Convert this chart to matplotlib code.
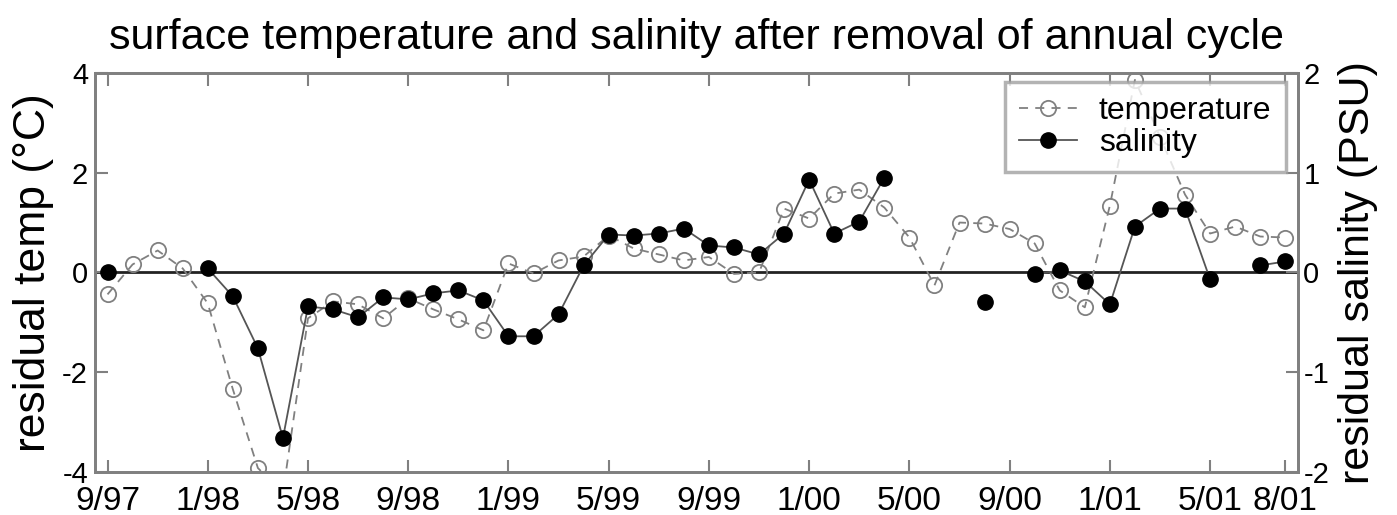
import numpy as np
import matplotlib
matplotlib.use('Agg')
import matplotlib.pyplot as plt

plt.rcParams['font.family'] = ['Liberation Sans', 'DejaVu Sans']
plt.rcParams['axes.unicode_minus'] = False

# months since 9/97, monthly samples (nan = no data)
months = np.arange(48)
temperature = [-0.44, 0.16, 0.44, 0.08, -0.62, -2.34, -3.92, -4.42,
               -0.92, -0.58, -0.64, -0.92, -0.52, -0.74, -0.94, -1.16,
               0.18, -0.02, 0.24, 0.32, 0.74, 0.48, 0.36, 0.24,
               0.31, -0.03, 0.00, 1.28, 1.08, 1.58, 1.66, 1.30,
               0.70, -0.26, 1.00, 0.98, 0.87, 0.58, -0.36, -0.70,
               1.34, 3.86, 2.72, 1.56, 0.78, 0.92, 0.72, 0.70]
salinity = [0.00, np.nan, np.nan, np.nan, 0.04, -0.24, -0.76, -1.66,
            -0.34, -0.37, -0.45, -0.25, -0.27, -0.21, -0.18, -0.28,
            -0.64, -0.64, -0.42, 0.07, 0.38, 0.37, 0.39, 0.44,
            0.27, 0.25, 0.18, 0.39, 0.93, 0.39, 0.51, 0.95,
            np.nan, np.nan, np.nan, -0.30, np.nan, -0.02, 0.02, -0.09,
            -0.32, 0.46, 0.64, 0.64, -0.07, np.nan, 0.07, 0.11]

tick_months = [0, 4, 8, 12, 16, 20, 24, 28, 32, 36, 40, 44, 47]
tick_labels = ['9/97', '1/98', '5/98', '9/98', '1/99', '5/99', '9/99',
               '1/00', '5/00', '9/00', '1/01', '5/01', '8/01']

fig = plt.figure(figsize=(13.97, 5.15), dpi=100)
ax = fig.add_axes([0.068, 0.0835, 0.861, 0.775])
ax2 = ax.twinx()

gray = '#808080'
ax.axhline(0, color='#222222', lw=2, zorder=1)
l1, = ax.plot(months, temperature, color=gray, ls=(0, (5, 4)), lw=1.3,
              marker='o', ms=11, mfc='none', mec=gray, mew=1.3,
              label='temperature')
l2, = ax2.plot(months, salinity, color='#555555', lw=1.3,
               marker='o', ms=11, mfc='black', mec='black',
               label='salinity')

ax.set_xlim(-0.5, 47.5)
ax.set_ylim(-4, 4)
ax2.set_ylim(-2, 2)
ax.set_yticks([-4, -2, 0, 2, 4])
ax2.set_yticks([-2, -1, 0, 1, 2])
ax.set_xticks(tick_months)
ax.set_xticklabels(tick_labels)

for a in (ax, ax2):
    for s in a.spines.values():
        s.set_color(gray)
        s.set_linewidth(2)
    a.tick_params(direction='in', length=9, width=1.5, color=gray,
                  labelsize=21, pad=5)
ax.tick_params(axis='x', top=True, pad=10, labelsize=24)
ax2.tick_params(axis='y', pad=4)

ax.set_ylabel('residual temp (°C)', fontsize=32, labelpad=6)
ax2.set_ylabel('residual salinity (PSU)', fontsize=31, labelpad=6)
ax.set_title('surface temperature and salinity after removal of annual cycle',
             fontsize=31, pad=17)

leg = ax2.legend(handles=[l1, l2], loc='upper right',
                 bbox_to_anchor=(0.99, 0.977), borderaxespad=0,
                 fontsize=23, frameon=True, fancybox=False,
                 handlelength=1.8, handletextpad=0.7,
                 borderpad=0.45, labelspacing=0.05)
leg.get_frame().set_edgecolor('#a0a0a0')
leg.get_frame().set_linewidth(2.5)

fig.savefig('out.png', dpi=100)
